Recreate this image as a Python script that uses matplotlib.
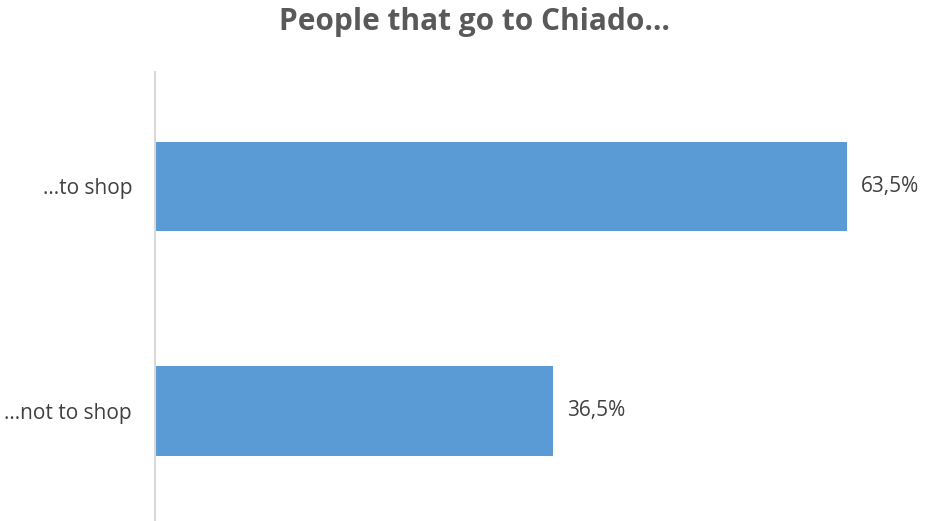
import matplotlib.pyplot as plt

plt.rcParams['font.family'] = ['Open Sans', 'DejaVu Sans']

categories = ['…not to shop', '…to shop']
values = [36.5, 63.5]
value_labels = ['36,5%', '63,5%']

fig = plt.figure(figsize=(9.26, 5.21), dpi=100)
ax = fig.add_axes([155 / 926, 0, 763 / 926, 1 - 72 / 521])

ypos = range(len(categories))
ax.barh(ypos, values, height=0.4, color='#5B9BD5')
for y, v, lab in zip(ypos, values, value_labels):
    ax.text(v + 1.3, y, lab, va='center', ha='left', fontsize=15, color='#404040')

ax.set_xlim(0, 70)
ax.set_ylim(-0.49, 1.51)
ax.set_yticks(list(ypos))
ax.set_yticklabels(categories, fontsize=15, color='#404040')
ax.tick_params(axis='y', length=0, pad=16.5)
ax.set_xticks([])
for s in ['top', 'right', 'bottom']:
    ax.spines[s].set_visible(False)
ax.spines['left'].set_color('#D9D9D9')
ax.spines['left'].set_linewidth(1.5)

fig.text(474.5 / 926, 1 - 30 / 521, 'People that go to Chiado…', ha='center', va='baseline',
         fontsize=21.5, fontweight='bold', color='#595959')

fig.savefig('out.png', dpi=100)
